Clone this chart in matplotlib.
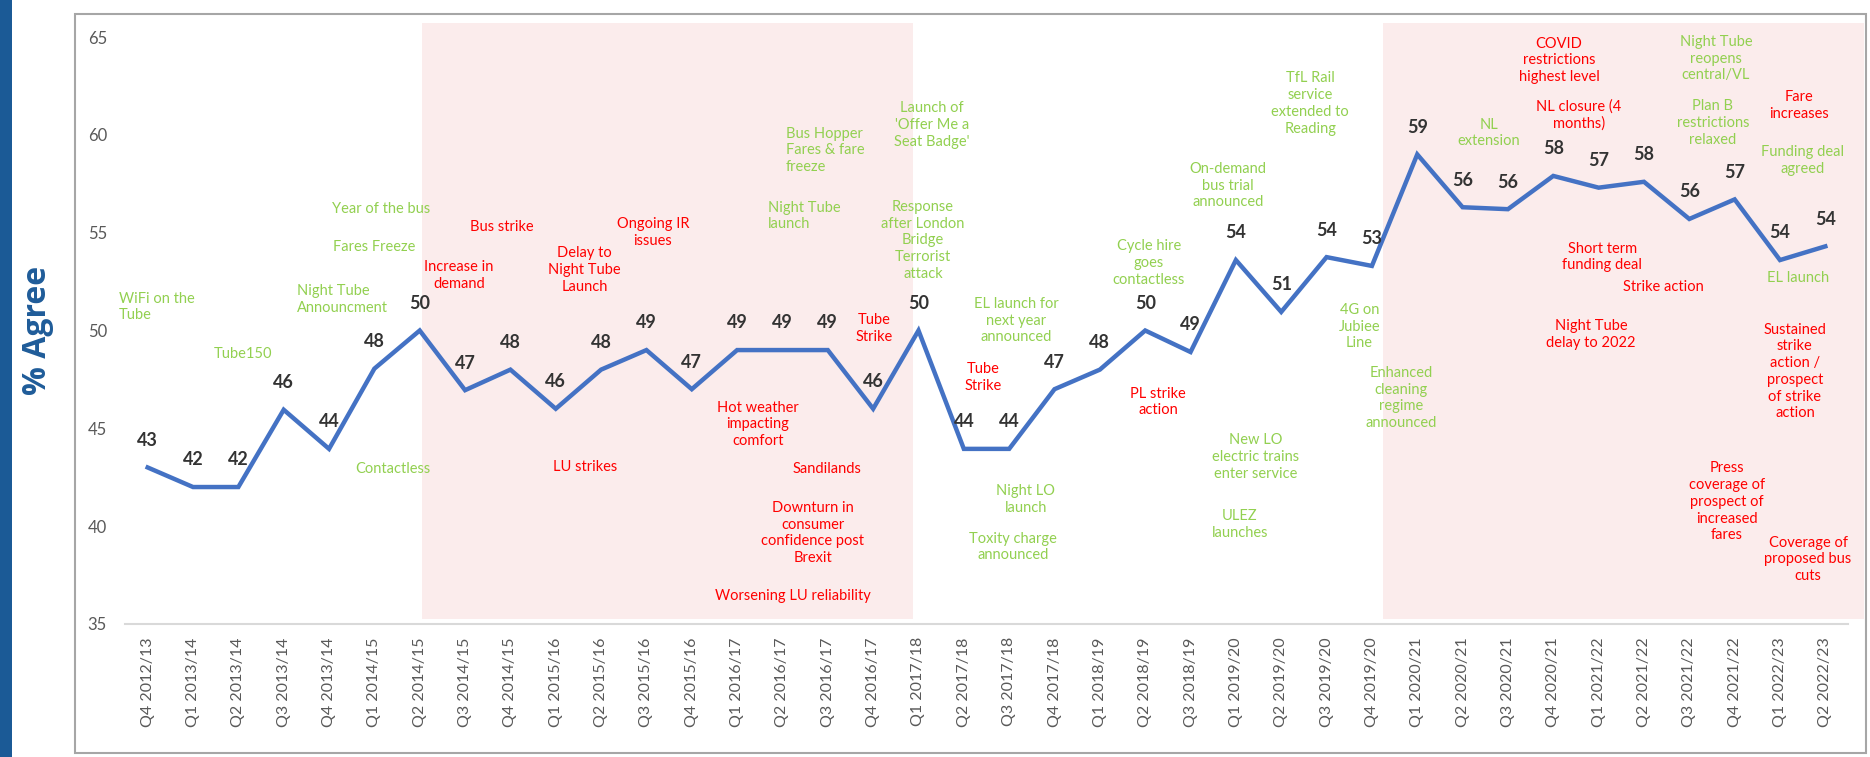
import matplotlib.pyplot as plt
from matplotlib.patches import Rectangle

plt.rcParams['font.family'] = ['Lato', 'DejaVu Sans']

# quarters on the x axis (no Q4 2018/19 in the survey)
quarters = ['Q4 2012/13', 'Q1 2013/14', 'Q2 2013/14', 'Q3 2013/14', 'Q4 2013/14',
            'Q1 2014/15', 'Q2 2014/15', 'Q3 2014/15', 'Q4 2014/15', 'Q1 2015/16',
            'Q2 2015/16', 'Q3 2015/16', 'Q4 2015/16', 'Q1 2016/17', 'Q2 2016/17',
            'Q3 2016/17', 'Q4 2016/17', 'Q1 2017/18', 'Q2 2017/18', 'Q3 2017/18',
            'Q4 2017/18', 'Q1 2018/19', 'Q2 2018/19', 'Q3 2018/19', 'Q1 2019/20',
            'Q2 2019/20', 'Q3 2019/20', 'Q4 2019/20', 'Q1 2020/21', 'Q2 2020/21',
            'Q3 2020/21', 'Q4 2020/21', 'Q1 2021/22', 'Q2 2021/22', 'Q3 2021/22',
            'Q4 2021/22', 'Q1 2022/23', 'Q2 2022/23']

# % agree (unrounded, as plotted)
agree = [43.0, 42.0, 42.0, 45.95, 43.95, 48.05, 50.0, 46.95, 48.0, 46.0,
         48.0, 49.0, 47.0, 49.0, 49.0, 49.0, 46.0, 50.0, 43.95, 43.95,
         47.0, 48.0, 50.0, 48.9, 53.6, 50.95, 53.75, 53.3, 59.0, 56.3,
         56.2, 57.9, 57.3, 57.6, 55.7, 56.7, 53.6, 54.3]

# rounded data labels
agree_labels = [43, 42, 42, 46, 44, 48, 50, 47, 48, 46, 48, 49, 47, 49, 49, 49, 46, 50, 44, 44,
                47, 48, 50, 49, 54, 51, 54, 53, 59, 56, 56, 58, 57, 58, 56, 57, 54, 54]

yticks = [35, 40, 45, 50, 55, 60, 65]

GREEN = '#92D050'
RED = '#FF0000'

# events: text, x (quarter index), y (%), colour, alignment
events = [
    ('WiFi on the\nTube', -0.63, 51.2, GREEN, 'left'),
    ('Tube150', 2.10, 48.8, GREEN, 'center'),
    ('Year of the bus', 5.15, 56.2, GREEN, 'center'),
    ('Fares Freeze', 4.99, 54.27, GREEN, 'center'),
    ('Night Tube\nAnnouncment', 3.29, 51.6, GREEN, 'left'),
    ('Contactless', 5.41, 42.9, GREEN, 'center'),
    ('Increase in\ndemand', 6.87, 52.8, RED, 'center'),
    ('Bus strike', 7.81, 55.3, RED, 'center'),
    ('Delay to\nNight Tube\nLaunch', 9.64, 53.1, RED, 'center'),
    ('Ongoing IR\nissues', 11.14, 55.0, RED, 'center'),
    ('LU strikes', 9.64, 43.0, RED, 'center'),
    ('Hot weather\nimpacting\ncomfort', 13.46, 45.2, RED, 'center'),
    ('Sandilands', 14.98, 42.9, RED, 'center'),
    ('Downturn in\nconsumer\nconfidence post\nBrexit', 14.67, 39.65, RED, 'center'),
    ('Worsening LU reliability', 14.23, 36.44, RED, 'center'),
    ('Bus Hopper\nFares & fare\nfreeze', 14.08, 59.2, GREEN, 'left'),
    ('Night Tube\nlaunch', 13.68, 55.85, GREEN, 'left'),
    ('Tube\nStrike', 16.02, 50.1, RED, 'center'),
    ("Launch of\n'Offer Me a\nSeat Badge'", 17.30, 60.5, GREEN, 'center'),
    ('Response\nafter London\nBridge\nTerrorist\nattack', 17.10, 54.6, GREEN, 'center'),
    ('EL launch for\nnext year\nannounced', 19.15, 50.5, GREEN, 'center'),
    ('Tube\nStrike', 18.42, 47.6, RED, 'center'),
    ('Night LO\nlaunch', 19.37, 41.35, GREEN, 'center'),
    ('Toxity charge\nannounced', 19.08, 38.94, GREEN, 'center'),
    ('Cycle hire\ngoes\ncontactless', 22.08, 53.45, GREEN, 'center'),
    ('PL strike\naction', 22.28, 46.35, RED, 'center'),
    ('On-demand\nbus trial\nannounced', 23.83, 57.4, GREEN, 'center'),
    ('New LO\nelectric trains\nenter service', 24.44, 43.54, GREEN, 'center'),
    ('ULEZ\nlaunches', 24.09, 40.1, GREEN, 'center'),
    ('TfL Rail\nservice\nextended to\nReading', 25.64, 61.6, GREEN, 'center'),
    ('4G on\nJubiee\nLine', 26.72, 50.2, GREEN, 'center'),
    ('Enhanced\ncleaning\nregime\nannounced', 27.64, 46.55, GREEN, 'center'),
    ('NL\nextension', 29.58, 60.1, GREEN, 'center'),
    ('COVID\nrestrictions\nhighest level', 31.13, 63.8, RED, 'center'),
    ('NL closure (4\nmonths)', 31.57, 61.0, RED, 'center'),
    ('Short term\nfunding deal', 32.08, 53.76, RED, 'center'),
    ('Strike action', 33.42, 52.2, RED, 'center'),
    ('Night Tube\ndelay to 2022', 31.83, 49.8, RED, 'center'),
    ('Night Tube\nreopens\ncentral/VL', 34.59, 63.9, GREEN, 'center'),
    ('Plan B\nrestrictions\nrelaxed', 34.52, 60.6, GREEN, 'center'),
    ('Fare\nincreases', 36.42, 61.5, RED, 'center'),
    ('Funding deal\nagreed', 36.49, 58.7, GREEN, 'center'),
    ('EL launch', 36.40, 52.7, GREEN, 'center'),
    ('Sustained\nstrike\naction /\nprospect\nof strike\naction', 36.33, 47.9, RED, 'center'),
    ('Press\ncoverage of\nprospect of\nincreased\nfares', 34.83, 41.24, RED, 'center'),
    ('Coverage of\nproposed bus\ncuts', 36.62, 38.3, RED, 'center'),
]

# shaded periods (x start, x end in quarter index)
periods = [(6.04, 16.88), (27.25, 37.85)]

fig = plt.figure(figsize=(18.7, 7.57), dpi=100)

# left blue strip and outer chart frame
fig.add_artist(Rectangle((0, 0), 12 / 1870, 1, transform=fig.transFigure,
                         facecolor='#1B5A96', edgecolor='none'))
fig.add_artist(Rectangle((75 / 1870, 4 / 757), 1791 / 1870, 739 / 757,
                         transform=fig.transFigure, facecolor='none',
                         edgecolor='#A6A6A6', lw=1.5))
fig.text(37 / 1870, 1 - 330 / 757, '% Agree', rotation=90, ha='center', va='center',
         fontsize=23, fontweight='bold', color='#1F5C99', family=['Open Sans', 'DejaVu Sans'])

ax = fig.add_axes([125 / 1870, 1 - 624 / 757, 1723 / 1870, 587 / 757])
x = list(range(len(quarters)))

for x0, x1 in periods:
    ax.add_patch(Rectangle((x0, 35.28), x1 - x0, 65.7 - 35.28, facecolor='#FBECEC',
                           edgecolor='none', clip_on=False, zorder=0))

ax.plot(x, agree, color='#4472C4', lw=3.2, solid_joinstyle='miter', zorder=3)

for xi, yi, lab in zip(x, agree, agree_labels):
    ax.annotate(str(lab), (xi, yi), xytext=(0, 19.5), textcoords='offset points',
                ha='center', va='center', fontsize=13, fontweight='bold', color='#333333',
                zorder=4)

for txt, ex, ey, col, align in events:
    ax.text(ex, ey, txt, ha=align, va='center', multialignment=align, fontsize=10.5,
            color=col, linespacing=1.25, zorder=2)

ax.set_xlim(-0.5, len(quarters) - 0.5)
ax.set_ylim(35, 65)
ax.set_yticks(yticks)
ax.set_xticks(x)
ax.set_xticklabels(quarters, rotation=90, ha='center', va='top')
ax.tick_params(axis='x', length=0, pad=9.5, labelsize=11.5, labelcolor='#595959')
ax.tick_params(axis='y', length=0, pad=13, labelsize=12, labelcolor='#595959')
for s in ['left', 'right', 'top']:
    ax.spines[s].set_visible(False)
ax.spines['bottom'].set_color('#D9D9D9')
ax.spines['bottom'].set_linewidth(1.5)
ax.patch.set_alpha(0)

fig.savefig('out.png', dpi=100)
